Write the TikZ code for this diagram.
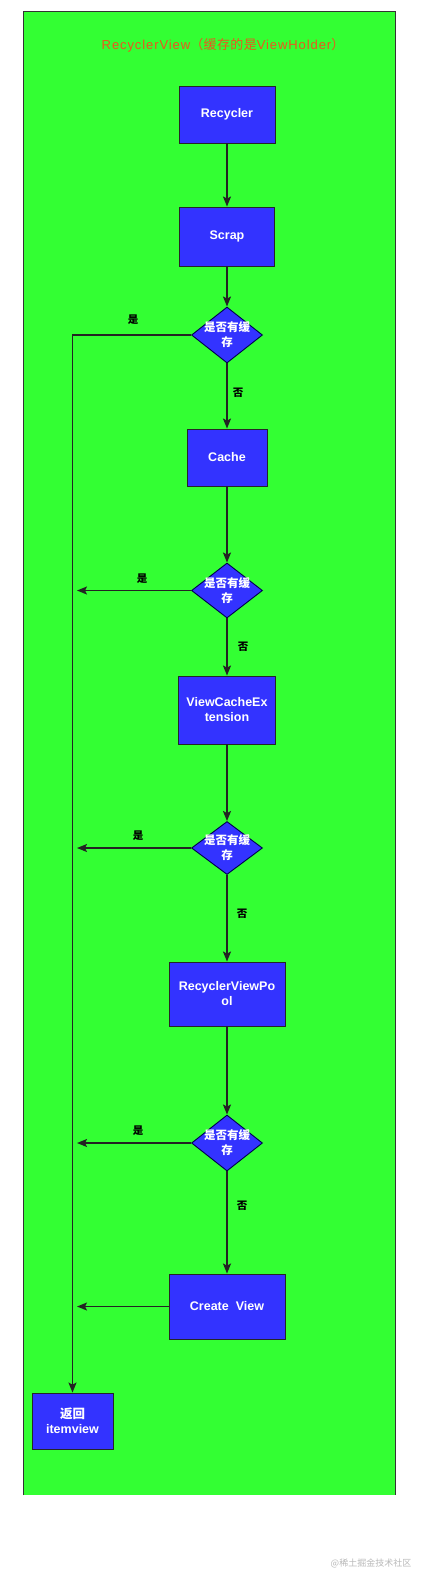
\documentclass[tikz,border=0pt]{standalone}
\usepackage{fontspec}
\setmainfont{Liberation Sans}
\newfontfamily\cjk{Noto Sans CJK SC}
\newfontfamily\titlefont[LetterSpace=7]{Liberation Sans}
\newfontfamily\titlecjk[LetterSpace=3]{Noto Sans CJK SC}
\usetikzlibrary{arrows.meta,shapes.geometric}
\definecolor{bggreen}{RGB}{51,255,51}
\definecolor{boxblue}{RGB}{51,51,255}
\definecolor{linegray}{RGB}{35,35,35}
\definecolor{titlered}{RGB}{235,85,30}
\definecolor{wmgray}{RGB}{185,185,185}
\begin{document}
\begin{tikzpicture}[x=1pt,y=-1pt,
  box/.style={draw=black!85,line width=0.9pt,fill=boxblue,text=white,
    font=\bfseries\fontsize{12.5}{15}\selectfont,align=center,inner sep=0pt},
  dia/.style={diamond,draw=blue!30!black,line width=0.9pt,fill=boxblue,
    inner sep=0pt,minimum width=71pt,minimum height=56pt},
  dtext/.style={text=white,font=\cjk\bfseries\fontsize{11.5}{15}\selectfont,align=center,inner sep=0pt},
  lab/.style={font=\cjk\bfseries\fontsize{10.5}{12}\selectfont,text=black,inner sep=0pt},
  arr/.style={draw=linegray,line width=1.6pt,-{Stealth[length=10pt,width=8pt,inset=2pt]}},
  ln/.style={draw=linegray,line width=1.6pt}]
\useasboundingbox (0,0) rectangle (425,1582);
\fill[white] (0,0) rectangle (425,1582);
\fill[bggreen] (23,11) rectangle (395,1495);
\draw[black!80,line width=0.9pt] (23,1495) -- (23,11) -- (395,11) -- (395,1495);

\node[text=titlered,font=\fontsize{13}{15}\selectfont,inner sep=0pt] (title) at (223,45)
  {\titlefont RecyclerView\titlecjk （缓存的是\titlefont ViewHolder\titlecjk ）};

\node[box,minimum width=96pt,minimum height=57pt] (rec) at (227,114.5) {Recycler};
\node[box,minimum width=95pt,minimum height=59pt] (scrap) at (227,236.5) {Scrap};
\node[dia] (d1) at (227,335) {};
\node[dtext] (d1t) at (d1.center) {是否有缓\\存};
\node[box,minimum width=80pt,minimum height=57pt] (cache) at (227,457.5) {Cache};
\node[dia,minimum height=55pt] (d2) at (227,590.5) {};
\node[dtext] (d2t) at (d2.center) {是否有缓\\存};
\node[box,minimum width=97pt,minimum height=68pt] (vce) at (227,710) {ViewCacheEx\\tension};
\node[dia,minimum height=53pt] (d3) at (227,848) {};
\node[dtext] (d3t) at (d3.center) {是否有缓\\存};
\node[box,minimum width=116pt,minimum height=64pt] (pool) at (227,994) {RecyclerViewPo\\ol};
\node[dia] (d4) at (227,1143) {};
\node[dtext] (d4t) at (d4.center) {是否有缓\\存};
\node[box,minimum width=116pt,minimum height=65pt] (create) at (227,1306.5) {Create\ \ View};
\node[box,minimum width=81pt,minimum height=56pt] (ret) at (72.5,1421) {{\cjk 返回}\\itemview};

\coordinate (c1) at (ret.north |- d1.west);
\coordinate (e2) at (77,590.5);
\coordinate (e3) at (77,848);
\coordinate (e4) at (77,1143);
\coordinate (e5) at (77,1306.5);

\draw[arr] (rec) -- (scrap);
\draw[arr] (scrap) -- (d1);
\draw[arr] (d1) -- (cache);
\draw[arr] (d1.west) -- (c1) -- (ret.north);
\draw[arr] (cache) -- (d2);
\draw[arr] (d2.west) -- (e2);
\draw[arr] (d2) -- (vce);
\draw[arr] (vce) -- (d3);
\draw[arr] (d3.west) -- (e3);
\draw[arr] (d3) -- (pool);
\draw[arr] (pool) -- (d4);
\draw[arr] (d4.west) -- (e4);
\draw[arr] (d4) -- (create);
\draw[arr] (create.west) -- (e5);

\node[lab] (y1) at (133,320) {是};
\node[lab] (n1) at (238,393) {否};
\node[lab] (y2) at (142,579) {是};
\node[lab] (n2) at (243,647) {否};
\node[lab] (y3) at (138,836) {是};
\node[lab] (n3) at (242,914) {否};
\node[lab] (y4) at (138,1131) {是};
\node[lab] (n4) at (242,1206) {否};

\node[text=wmgray,font=\cjk\fontsize{9}{10}\selectfont,inner sep=0pt] (wm) at (371,1563) {@稀土掘金技术社区};
\end{tikzpicture}
\end{document}
